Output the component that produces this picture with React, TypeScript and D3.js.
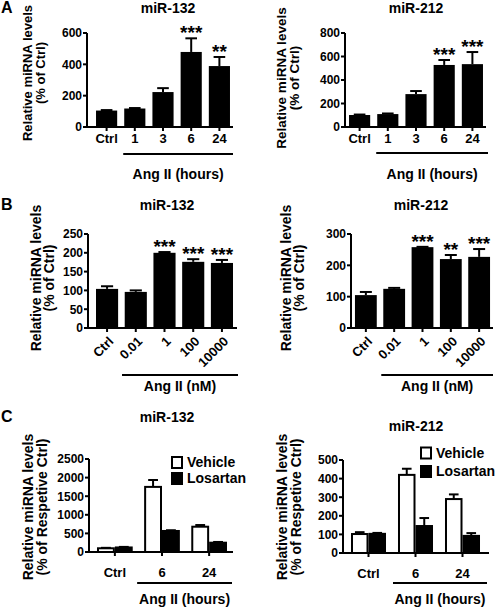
import React from 'react';
import * as d3 from 'd3';

// ---------- data ----------
const hoursCats = ['Ctrl', '1', '3', '6', '24'];
const doseCats = ['Ctrl', '0.01', '1', '100', '10000'];
const losCats = ['Ctrl', '6', '24'];
const losSeries = ['Vehicle', 'Losartan'];

const aMiR132Mean = [105, 118, 223, 479, 389];
const aMiR132Sem = [3, 3, 25, 87, 58];
const aMiR132Sig = ['', '', '', '***', '**'];

const aMiR212Mean = [102, 110, 280, 528, 535];
const aMiR212Sem = [4, 5, 26, 42, 103];
const aMiR212Sig = ['', '', '', '***', '***'];

const bMiR132Mean = [104, 96, 200, 176, 173];
const bMiR132Sem = [7, 4, 2, 7, 8];
const bMiR132Sig = ['', '', '***', '***', '***'];

const bMiR212Mean = [105, 125, 258, 220, 227];
const bMiR212Sem = [10, 3, 1, 13, 25];
const bMiR212Sig = ['', '', '***', '**', '***'];

const cMiR132Vehicle = [100, 1750, 680];
const cMiR132VehicleSem = [12, 185, 45];
const cMiR132Losartan = [122, 565, 250];
const cMiR132LosartanSem = [15, 20, 20];

const cMiR212Vehicle = [102, 420, 290];
const cMiR212VehicleSem = [10, 33, 25];
const cMiR212Losartan = [103, 145, 92];
const cMiR212LosartanSem = [5, 43, 15];

const yTicksA132 = [0, 200, 400, 600];
const yTicksA212 = [0, 200, 400, 600, 800];
const yTicksB132 = [0, 50, 100, 150, 200, 250];
const yTicksB212 = [0, 100, 200, 300];
const yTicksC132 = [0, 500, 1000, 1500, 2000, 2500];
const yTicksC212 = [0, 100, 200, 300, 400, 500];

// ---------- drawing ----------
const FONT = '"Liberation Sans", Arial, Helvetica, sans-serif';
const SW = 2;

function YAxis({ y, x, ticks }: any) {
  const max = ticks[ticks.length - 1];
  return (
    <g>
      <line x1={x} x2={x} y1={y(0) + SW / 2} y2={y(max)} stroke="#000" strokeWidth={SW} />
      {ticks.map((t: number) => (
        <g key={t}>
          <line x1={x - 4} x2={x} y1={y(t)} y2={y(t)} stroke="#000" strokeWidth={SW} />
          <text x={x - 5} y={y(t)} dy="0.36em" textAnchor="end" fontSize={12} fontWeight="bold" fontFamily={FONT}>{t}</text>
        </g>
      ))}
    </g>
  );
}

function YLabel({ lines, bx, cy, fs }: any) {
  return (
    <g>
      {lines.map((l: string, i: number) => (
        <text key={i} transform={`translate(${bx[i]},${cy}) rotate(-90)`} textAnchor="middle" fontSize={fs} fontWeight="bold" fontFamily={FONT}>{l}</text>
      ))}
    </g>
  );
}

function ErrBar({ cx, yTop, yErr, cap }: any) {
  return (
    <g>
      <line x1={cx} x2={cx} y1={yTop} y2={yErr} stroke="#000" strokeWidth={SW} />
      <line x1={cx - cap / 2} x2={cx + cap / 2} y1={yErr} y2={yErr} stroke="#000" strokeWidth={SW} />
    </g>
  );
}

function BarPanel({ p, cats, means, sems, sigs, ticks }: any) {
  const max = ticks[ticks.length - 1];
  const y = d3.scaleLinear().domain([0, max]).range([p.y0, p.yTop]);
  const x = d3.scaleBand().domain(cats).range(p.range).paddingInner(p.pi).paddingOuter(p.pi / 2);
  const bw = x.bandwidth();
  const ux1 = (x(cats[1]) as number) + p.uOff;
  return (
    <g>
      {p.letter && <text x={1} y={p.titleY} fontSize={16} fontWeight="bold" fontFamily={FONT}>{p.letter}</text>}
      <text x={p.titleX} y={p.titleY} textAnchor="middle" fontSize={14} fontWeight="bold" fontFamily={FONT}>{p.title}</text>
      <YLabel lines={['Relative miRNA levels', '(% of Ctrl)']} bx={p.ylx} cy={p.ylcy} fs={p.ylfs} />
      {cats.map((c: string, i: number) => {
        const bx = x(c) as number;
        const cx = bx + bw / 2;
        return (
          <g key={c}>
            <rect x={bx} y={y(means[i])} width={bw} height={p.y0 - y(means[i])} fill="#000" />
            <ErrBar cx={cx} yTop={y(means[i])} yErr={y(means[i] + sems[i])} cap={bw * 0.55} />
            {sigs[i] && (
              <text x={cx} y={y(means[i] + sems[i]) + 1} textAnchor="middle" fontSize={19} fontWeight="bold" fontFamily={FONT}>{sigs[i]}</text>
            )}
            <line x1={cx} x2={cx} y1={p.y0} y2={p.y0 + 4} stroke="#000" strokeWidth={SW} />
            {p.rot ? (
              <text transform={`translate(${cx + 4},${p.y0 + 11}) rotate(-45)`} textAnchor="end" dy="0.35em" fontSize={13} fontWeight="bold" fontFamily={FONT}>{c}</text>
            ) : (
              <text x={cx} y={p.y0 + 16} textAnchor="middle" fontSize={13} fontWeight="bold" fontFamily={FONT}>{c}</text>
            )}
          </g>
        );
      })}
      <line x1={p.axisX - SW / 2} x2={p.axisEnd} y1={p.y0} y2={p.y0} stroke="#000" strokeWidth={SW} />
      <YAxis y={y} x={p.axisX} ticks={ticks} />
      <line x1={ux1} x2={p.uEnd} y1={p.uY} y2={p.uY} stroke="#000" strokeWidth={SW} />
      <text x={(ux1 + p.uEnd) / 2} y={p.gY} textAnchor="middle" fontSize={14} fontWeight="bold" fontFamily={FONT}>{p.group}</text>
    </g>
  );
}

function GroupPanel({ p, cats, veh, vehSem, los, losSem, ticks }: any) {
  const max = ticks[ticks.length - 1];
  const y = d3.scaleLinear().domain([0, max]).range([p.y0, p.yTop]);
  const x0 = d3.scaleBand().domain(cats).range(p.range).paddingInner(p.pi).paddingOuter(p.pi / 2);
  const x1 = d3.scaleBand().domain(losSeries).range([0, x0.bandwidth()]);
  const bw = x1.bandwidth();
  const series = [
    { name: losSeries[0], vals: veh, sems: vehSem, fill: '#fff' },
    { name: losSeries[1], vals: los, sems: losSem, fill: '#000' },
  ];
  const ux1 = (x0(cats[1]) as number) + p.uOff;
  return (
    <g>
      {p.letter && <text x={1} y={p.titleY} fontSize={16} fontWeight="bold" fontFamily={FONT}>{p.letter}</text>}
      <text x={p.titleX} y={p.titleY} textAnchor="middle" fontSize={14} fontWeight="bold" fontFamily={FONT}>{p.title}</text>
      <YLabel lines={['Relative miRNA levels', '(% of Respetive Ctrl)']} bx={p.ylx} cy={p.ylcy} fs={p.ylfs} />
      {cats.map((c: string, i: number) => {
        const gx = x0(c) as number;
        const cx = gx + x0.bandwidth() / 2;
        return (
          <g key={c}>
            {series.map((s) => {
              const bx = gx + (x1(s.name) as number);
              const top = y(s.vals[i]);
              return (
                <g key={s.name}>
                  <rect x={bx + SW / 2} y={top} width={bw - SW} height={p.y0 - top} fill={s.fill} stroke="#000" strokeWidth={SW} />
                  <ErrBar cx={bx + bw / 2} yTop={top} yErr={y(s.vals[i] + s.sems[i])} cap={bw * 0.55} />
                </g>
              );
            })}
            <line x1={cx} x2={cx} y1={p.y0} y2={p.y0 + 4} stroke="#000" strokeWidth={SW} />
            <text x={cx} y={p.y0 + 25} textAnchor="middle" fontSize={13} fontWeight="bold" fontFamily={FONT}>{c}</text>
          </g>
        );
      })}
      <line x1={p.axisX - SW / 2} x2={p.axisEnd} y1={p.y0} y2={p.y0} stroke="#000" strokeWidth={SW} />
      <YAxis y={y} x={p.axisX} ticks={ticks} />
      <line x1={ux1} x2={p.uEnd} y1={p.uY} y2={p.uY} stroke="#000" strokeWidth={SW} />
      <text x={(ux1 + p.uEnd) / 2} y={p.gY} textAnchor="middle" fontSize={14} fontWeight="bold" fontFamily={FONT}>{p.group}</text>
      {series.map((s, i) => (
        <g key={s.name}>
          <rect x={p.legX + 1} y={p.legY[i] - 5} width={10} height={11} fill={s.fill} stroke="#000" strokeWidth={SW} />
          <text x={p.legX + 16} y={p.legY[i]} dy="0.36em" fontSize={14} fontWeight="bold" fontFamily={FONT}>{s.name}</text>
        </g>
      ))}
    </g>
  );
}

const pA1 = { letter: 'A', title: 'miR-132', titleX: 168, titleY: 13, ylx: [32, 45], ylcy: 73, ylfs: 13,
  axisX: 87, y0: 127, yTop: 33, range: [92.5, 233.5], pi: 0.25, axisEnd: 233, uOff: -1, uEnd: 233, uY: 154, gY: 179, group: 'Ang II (hours)' };
const pA2 = { title: 'miR-212', titleX: 416, titleY: 13, ylx: [286, 299], ylcy: 78, ylfs: 13.5,
  axisX: 345, y0: 127, yTop: 33, range: [345.5, 486.5], pi: 0.25, axisEnd: 486, uOff: -1, uEnd: 488, uY: 153, gY: 179, group: 'Ang II (hours)' };
const pB1 = { letter: 'B', title: 'miR-132', titleX: 167, titleY: 210, ylx: [41, 54], ylcy: 278, ylfs: 14, rot: true,
  axisX: 88, y0: 328, yTop: 234, range: [92.7, 236.3], pi: 0.23, axisEnd: 237, uOff: -2.7, uEnd: 238, uY: 375, gY: 391, group: 'Ang II (nM)' };
const pB2 = { title: 'miR-212', titleX: 421, titleY: 210, ylx: [291, 304], ylcy: 278, ylfs: 14, rot: true,
  axisX: 351, y0: 328, yTop: 234, range: [351.7, 493.3], pi: 0.23, axisEnd: 493, uOff: -2, uEnd: 493, uY: 375, gY: 391, group: 'Ang II (nM)' };
const pC1 = { letter: 'C', title: 'miR-132', titleX: 167, titleY: 422, ylx: [33, 47], ylcy: 507, ylfs: 14,
  axisX: 89, y0: 552, yTop: 459, range: [91.3, 232.7], pi: 0.242, axisEnd: 233, uOff: -7, uEnd: 232, uY: 583, gY: 604, group: 'Ang II (hours)',
  legX: 171, legY: [462, 478] };
const pC2 = { title: 'miR-212', titleX: 416, titleY: 431, ylx: [287, 301], ylcy: 507, ylfs: 14,
  axisX: 343, y0: 553, yTop: 460, range: [345, 486], pi: 0.255, axisEnd: 489, uOff: -5, uEnd: 487, uY: 583, gY: 604, group: 'Ang II (hours)',
  legX: 420, legY: [452.5, 471] };

export default function App() {
  return (
    <svg width={498} height={608} style={{ position: 'absolute', left: 0, top: 0, background: '#fff' }}>
      <rect width={498} height={608} fill="#fff" />
      <BarPanel p={pA1} cats={hoursCats} means={aMiR132Mean} sems={aMiR132Sem} sigs={aMiR132Sig} ticks={yTicksA132} />
      <BarPanel p={pA2} cats={hoursCats} means={aMiR212Mean} sems={aMiR212Sem} sigs={aMiR212Sig} ticks={yTicksA212} />
      <BarPanel p={pB1} cats={doseCats} means={bMiR132Mean} sems={bMiR132Sem} sigs={bMiR132Sig} ticks={yTicksB132} />
      <BarPanel p={pB2} cats={doseCats} means={bMiR212Mean} sems={bMiR212Sem} sigs={bMiR212Sig} ticks={yTicksB212} />
      <GroupPanel p={pC1} cats={losCats} veh={cMiR132Vehicle} vehSem={cMiR132VehicleSem} los={cMiR132Losartan} losSem={cMiR132LosartanSem} ticks={yTicksC132} />
      <GroupPanel p={pC2} cats={losCats} veh={cMiR212Vehicle} vehSem={cMiR212VehicleSem} los={cMiR212Losartan} losSem={cMiR212LosartanSem} ticks={yTicksC212} />
    </svg>
  );
}
